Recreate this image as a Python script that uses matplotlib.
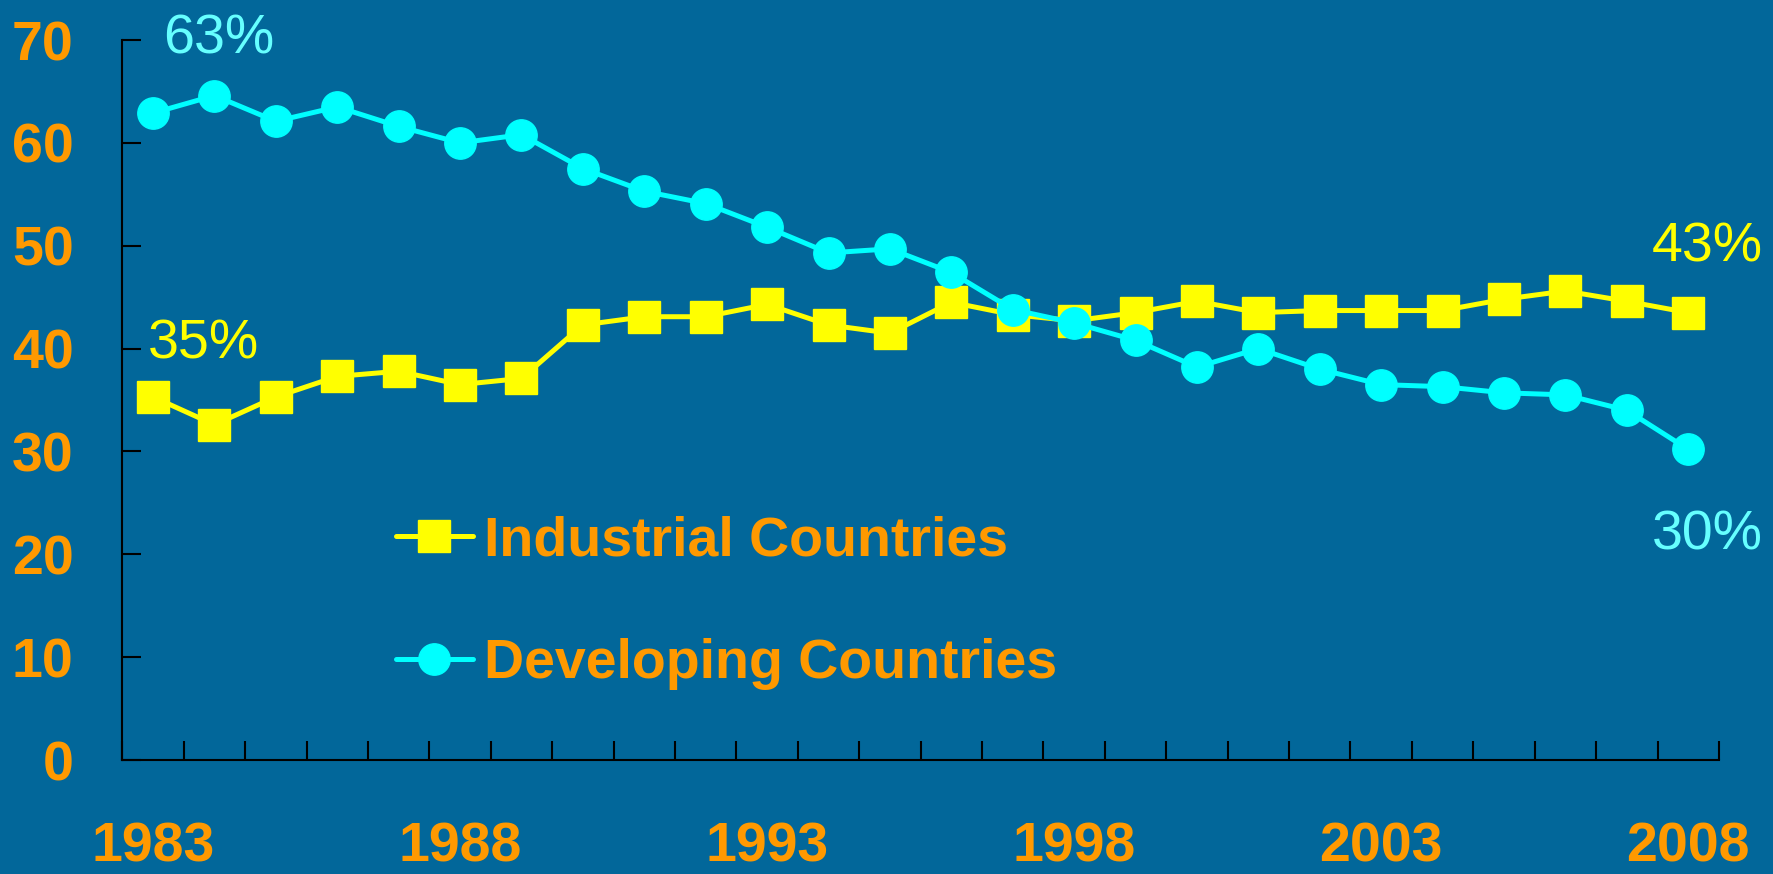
import matplotlib
matplotlib.use('Agg')
import matplotlib.pyplot as plt
from matplotlib.transforms import blended_transform_factory
import numpy as np

years = list(range(1983, 2009))
industrial = [35.3, 32.6, 35.3, 37.3, 37.8, 36.5, 37.1, 42.3, 43.1, 43.1,
              44.3, 42.3, 41.5, 44.5, 43.3, 42.7, 43.5, 44.6, 43.5, 43.7,
              43.7, 43.7, 44.8, 45.6, 44.6, 43.5]
developing = [62.9, 64.6, 62.1, 63.5, 61.6, 60.0, 60.8, 57.5, 55.3, 54.1,
              51.8, 49.3, 49.7, 47.4, 43.8, 42.5, 40.8, 38.2, 40.0, 38.0,
              36.5, 36.3, 35.7, 35.5, 34.0, 30.2]
year_labels = [1983, 1988, 1993, 1998, 2003, 2008]
series_names = ['Industrial Countries', 'Developing Countries']

BG = '#02679A'
ORANGE = '#FF9900'
YELLOW = '#FFFF00'
CYAN = '#00FFFF'
LIGHT_CYAN = '#66FFFF'
FS = 40
DPI = 100

plt.rcParams['font.family'] = ['Liberation Sans', 'DejaVu Sans']

fig = plt.figure(figsize=(17.73, 8.74), dpi=DPI, facecolor=BG)
ax = fig.add_axes([0.069, 0.1304, 0.9005, 0.8238], facecolor=BG)

ax.plot(years, industrial, color=YELLOW, lw=3.6, marker='s', ms=22.6,
        solid_capstyle='round', label=series_names[0])
ax.plot(years, developing, color=CYAN, lw=3.6, marker='o', ms=22.6,
        solid_capstyle='round', label=series_names[1])

# category style x axis: each year sits in the middle of its slot
xmin, xmax = years[0] - 0.5, years[-1] + 0.5
ax.set_xlim(xmin, xmax)
ax.set_ylim(0, 70)

for side in ['top', 'right']:
    ax.spines[side].set_visible(False)
for side in ['left', 'bottom']:
    ax.spines[side].set_color('black')
    ax.spines[side].set_linewidth(1.5)

ax.set_yticks(np.arange(0, 71, 10))
ax.tick_params(axis='y', direction='in', length=13.5, width=1.5, color='black',
               labelsize=FS, labelcolor=ORANGE, pad=35)
for lab in ax.get_yticklabels():
    lab.set_fontweight('bold')

ax.set_xticks(np.arange(xmin, xmax + 0.01, 1))
ax.tick_params(axis='x', direction='in', length=13.5, width=1.5, color='black',
               labelbottom=False)

# year labels sit right at the bottom edge of the slide
trans = blended_transform_factory(ax.transData, fig.transFigure)
for yr in year_labels:
    ax.text(yr, 0.001, str(yr), transform=trans, ha='center', va='bottom',
            fontsize=FS, fontweight='bold', color=ORANGE)

ax.text(1983.17, 68.7, '63%', color=LIGHT_CYAN, fontsize=FS, va='baseline', ha='left')
ax.text(1982.91, 39.05, '35%', color=YELLOW, fontsize=FS, va='baseline', ha='left')
ax.text(2007.40, 48.45, '43%', color=YELLOW, fontsize=FS, va='baseline', ha='left')
ax.text(2007.40, 20.42, '30%', color=LIGHT_CYAN, fontsize=FS, va='baseline', ha='left')

leg = ax.legend(loc='upper left', bbox_to_anchor=(0.1714, 0.340), frameon=False,
                borderpad=0, borderaxespad=0, handlelength=1.38, handletextpad=0.2,
                labelspacing=1.28, prop={'weight': 'bold', 'size': FS})
for t in leg.get_texts():
    t.set_color(ORANGE)

fig.savefig('out.png', dpi=DPI, facecolor=BG)
